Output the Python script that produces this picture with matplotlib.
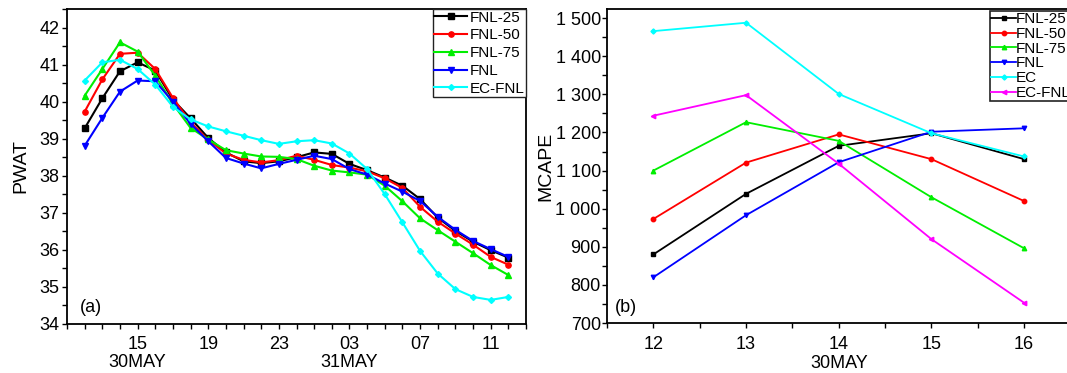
import matplotlib
matplotlib.use("Agg")
import matplotlib.pyplot as plt
from matplotlib.ticker import MultipleLocator, FixedLocator, FuncFormatter

plt.rcParams['font.family'] = ['Liberation Sans', 'DejaVu Sans']

# ---- panel (a): PWAT, hourly from 30 May 12 UTC to 31 May 12 UTC ----
hours = list(range(12, 37))
pwat_fnl25 = [39.28, 40.09, 40.82, 41.06, 40.84, 40.05, 39.55, 39.02, 38.63, 38.39, 38.34, 38.39, 38.50,
              38.63, 38.59, 38.32, 38.15, 37.95, 37.73, 37.37, 36.87, 36.51, 36.22, 35.99, 35.79]
pwat_fnl50 = [39.73, 40.60, 41.29, 41.32, 40.88, 40.10, 39.44, 38.97, 38.60, 38.43, 38.36, 38.42, 38.54,
              38.43, 38.29, 38.22, 38.12, 37.93, 37.67, 37.16, 36.76, 36.44, 36.14, 35.81, 35.60]
pwat_fnl75 = [40.16, 40.88, 41.60, 41.35, 40.70, 39.94, 39.29, 38.98, 38.69, 38.60, 38.52, 38.51, 38.45,
              38.27, 38.14, 38.09, 38.03, 37.73, 37.31, 36.85, 36.53, 36.22, 35.91, 35.59, 35.32]
pwat_fnl = [38.81, 39.56, 40.27, 40.57, 40.55, 40.00, 39.40, 38.93, 38.48, 38.33, 38.20, 38.32, 38.43,
            38.54, 38.45, 38.18, 38.03, 37.79, 37.57, 37.32, 36.89, 36.54, 36.24, 36.02, 35.81]
pwat_ecfnl = [40.57, 41.06, 41.13, 40.88, 40.46, 39.86, 39.52, 39.33, 39.20, 39.08, 38.96, 38.86, 38.93,
              38.96, 38.87, 38.60, 38.18, 37.50, 36.74, 35.97, 35.36, 34.94, 34.73, 34.65, 34.73]
hour_ticks = [15, 19, 23, 27, 31, 35]
hour_labels = ['15\n30MAY', '19', '23', '03\n31MAY', '07', '11']

# ---- panel (b): MCAPE, daily ----
days = [12, 13, 14, 15, 16]
cape_fnl25 = [880, 1039, 1165, 1198, 1130]
cape_fnl50 = [973, 1121, 1195, 1130, 1020]
cape_fnl75 = [1100, 1227, 1178, 1030, 896]
cape_fnl = [820, 983, 1122, 1202, 1211]
cape_ec = [1466, 1488, 1301, 1198, 1137]
cape_ecfnl = [1244, 1298, 1118, 920, 753]

BLACK, RED, GREEN, BLUE, CYAN, MAGENTA = '#000000', '#ff0000', '#00ee00', '#0000ff', '#00ffff', '#ff00ff'

fig = plt.figure(figsize=(10.67, 3.73), dpi=100)
ax1 = fig.add_axes([0.0628, 0.1314, 0.4302, 0.8445])
ax2 = fig.add_axes([0.5689, 0.134, 0.4344, 0.8418])

for ax in (ax1, ax2):
    for s in ax.spines.values():
        s.set_linewidth(1.3)
    ax.tick_params(which='both', direction='out', length=3.5, width=1.0, labelsize=13, pad=2)
    ax.tick_params(axis='x', pad=5.5)

# (a)
series_a = [(pwat_fnl25, BLACK, 's', 'FNL-25'), (pwat_fnl50, RED, 'o', 'FNL-50'),
            (pwat_fnl75, GREEN, '^', 'FNL-75'), (pwat_fnl, BLUE, 'v', 'FNL'),
            (pwat_ecfnl, CYAN, 'D', 'EC-FNL')]
for vals, c, m, lab in series_a:
    ms = 3.0 if m == 'D' else 3.8
    ax1.plot(hours, vals, color=c, marker=m, ms=ms, lw=1.5, label=lab)
ax1.set_xlim(11, 37)
ax1.set_ylim(34, 42.5)
ax1.xaxis.set_major_locator(FixedLocator(hour_ticks))
ax1.set_xticklabels(hour_labels, linespacing=1.05)
ax1.xaxis.set_minor_locator(MultipleLocator(1))
ax1.yaxis.set_major_locator(MultipleLocator(1))
ax1.yaxis.set_minor_locator(MultipleLocator(0.5))
ax1.set_ylabel('PWAT', fontsize=14, labelpad=7)
ax1.text(0.028, 0.052, '(a)', transform=ax1.transAxes, fontsize=13, va='center', ha='left')
leg1 = ax1.legend(loc='upper right', bbox_to_anchor=(1.0, 1.0), borderaxespad=0, fontsize=11,
                  handlelength=2.1, handletextpad=0.2, labelspacing=0.25, borderpad=0.1,
                  fancybox=False, framealpha=1, edgecolor='#222222')
leg1.get_frame().set_linewidth(1.0)

# (b)
series_b = [(cape_fnl25, BLACK, 's', 'FNL-25'), (cape_fnl50, RED, 'o', 'FNL-50'),
            (cape_fnl75, GREEN, '^', 'FNL-75'), (cape_fnl, BLUE, 'v', 'FNL'),
            (cape_ec, CYAN, 'D', 'EC'), (cape_ecfnl, MAGENTA, '<', 'EC-FNL')]
for vals, c, m, lab in series_b:
    ms = 2.6 if m == 'D' else 3.2
    ax2.plot(days, vals, color=c, marker=m, ms=ms, lw=1.3, label=lab)
ax2.set_xlim(11.5, 16.5)
ax2.set_ylim(700, 1524)
ax2.xaxis.set_major_locator(MultipleLocator(1))
ax2.xaxis.set_minor_locator(MultipleLocator(0.5))
ax2.yaxis.set_major_locator(MultipleLocator(100))
ax2.yaxis.set_minor_locator(MultipleLocator(50))
ax2.yaxis.set_major_formatter(FuncFormatter(lambda v, p: f"{int(round(v)):,}".replace(',', ' ')))
ax2.tick_params(axis='y', pad=1)
ax2.set_xlabel('30MAY', fontsize=13, labelpad=1.5)
ax2.set_ylabel('MCAPE', fontsize=14, labelpad=1)
ax2.text(0.017, 0.05, '(b)', transform=ax2.transAxes, fontsize=13, va='center', ha='left')
leg2 = ax2.legend(loc='upper left', bbox_to_anchor=(0.826, 0.995), borderaxespad=0, fontsize=11,
                  handlelength=1.6, handletextpad=0.0, labelspacing=0.05, borderpad=0.1,
                  fancybox=False, framealpha=1, edgecolor='#222222')
leg2.get_frame().set_linewidth(1.2)

fig.savefig('out.png', dpi=100)
